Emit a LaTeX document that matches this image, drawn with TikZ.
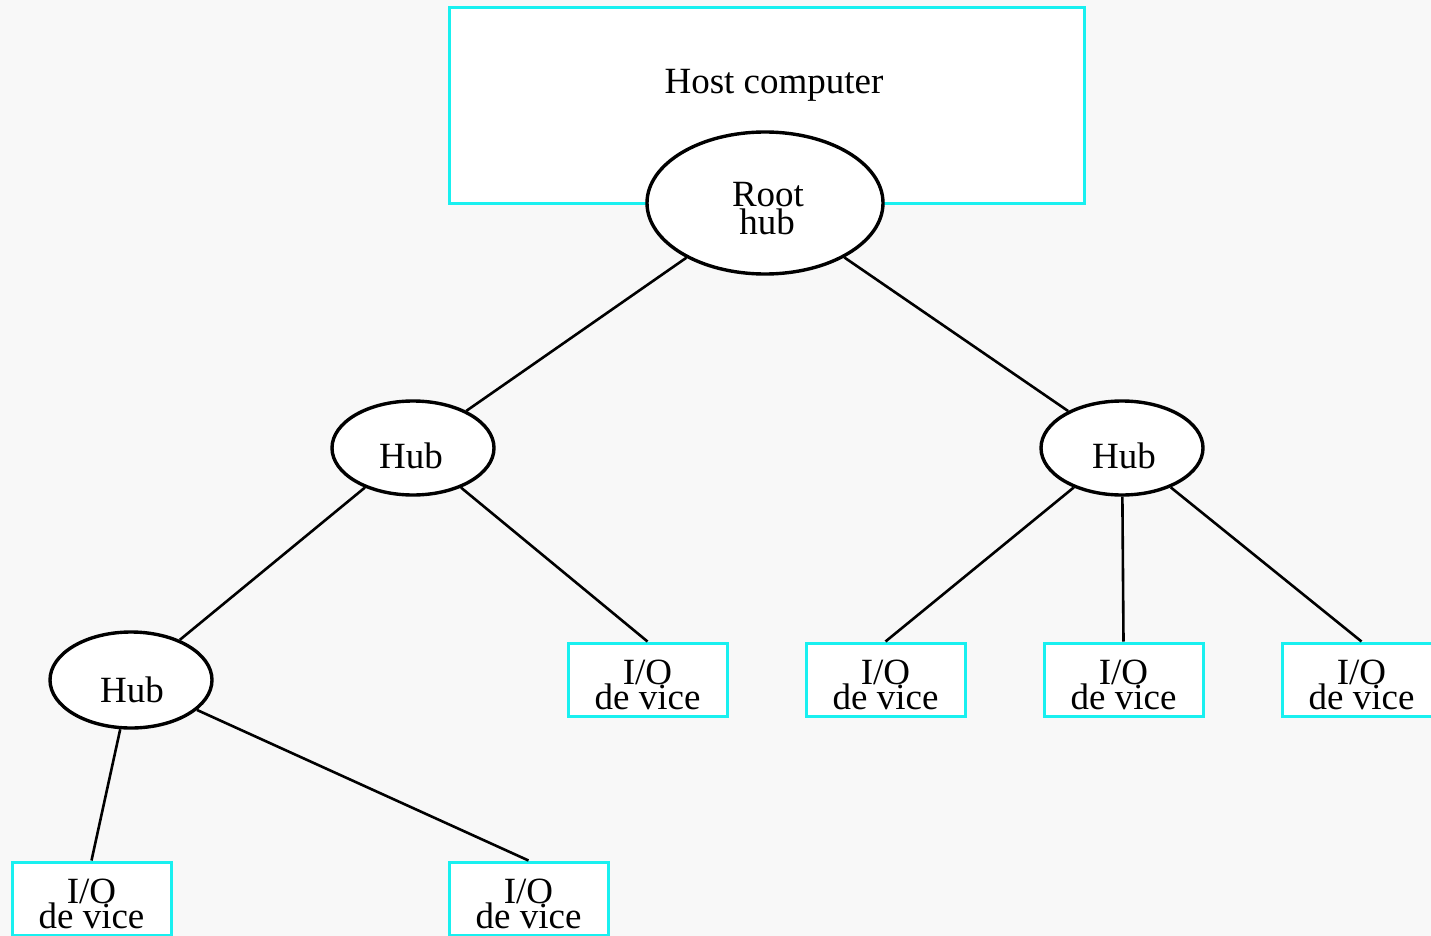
\documentclass[tikz,border=0pt]{standalone}
\usepackage{fontspec}
\setmainfont{Liberation Serif}
\usetikzlibrary{shapes.geometric}
\definecolor{bg}{HTML}{F8F8F8}
\definecolor{boxcyan}{HTML}{19F0F0}
\tikzset{
  hostbox/.style={draw=boxcyan, line width=3pt, fill=white, rectangle, inner sep=0pt, minimum width=635pt, minimum height=195pt},
  iobox/.style={draw=boxcyan, line width=3pt, fill=white, rectangle, inner sep=0pt, minimum width=159pt, minimum height=73pt},
  hub/.style={draw=black, line width=3.4pt, fill=white, ellipse, inner sep=0pt},
  conn/.style={draw=black, line width=2.6pt},
  txt/.style={inner sep=0pt, anchor=base, font=\fontsize{37}{37}\selectfont}
}
\begin{document}
\begin{tikzpicture}[x=1pt, y=-1pt]
\fill[bg] (0,0) rectangle (1431,936);
\useasboundingbox (0,0) rectangle (1431,936);
\begin{scope}
\clip (0,0) rectangle (1431,936);
% host
\node[hostbox] (host) at (766.5,105.5) {};
\node[txt] (hosttxt) at (774,94) {Host computer};
% hubs
\node[hub, minimum width=236pt, minimum height=142pt] (root) at (765,203) {};
\node[hub, minimum width=162pt, minimum height=94pt] (hubL) at (413,448) {};
\node[hub, minimum width=162pt, minimum height=94pt] (hubR) at (1122,448) {};
\node[hub, minimum width=162pt, minimum height=96pt] (hubB) at (131,680) {};
% io boxes
\node[iobox] (ioA) at (647.5,679.5) {};
\node[iobox] (ioB) at (885.5,679.5) {};
\node[iobox] (ioC) at (1123.5,679.5) {};
\node[iobox] (ioD) at (1361.5,679.5) {};
\node[iobox] (ioE) at (91.5,898.5) {};
\node[iobox] (ioF) at (528.5,898.5) {};
% connectors
\draw[conn] (root) -- (hubL);
\draw[conn] (root) -- (hubR);
\draw[conn] (hubL) -- (hubB);
\draw[conn] (hubL) -- (ioA.north);
\draw[conn] (hubR) -- (ioB.north);
\draw[conn] (hubR) -- (ioC.north);
\draw[conn] (hubR) -- (ioD.north);
\draw[conn] (hubB) -- (ioE.north);
\draw[conn] (hubB) -- (ioF.north);
% texts
\node[txt] (roottxt1) at (768,207) {Root};
\node[txt] (roottxt2) at (767,234) {hub};
\node[txt] (hubLtxt) at (411,468) {Hub};
\node[txt] (hubRtxt) at (1124,468) {Hub};
\node[txt] (hubBtxt) at (132,702) {Hub};
\foreach \n in {ioA,ioB,ioC,ioD,ioE,ioF}{
  \node[txt] at ([yshift=-5pt]\n.center) {I/O};
  \node[txt] at ([yshift=-29.5pt]\n.center) {de vice};
}
\end{scope}
\end{tikzpicture}
\end{document}
